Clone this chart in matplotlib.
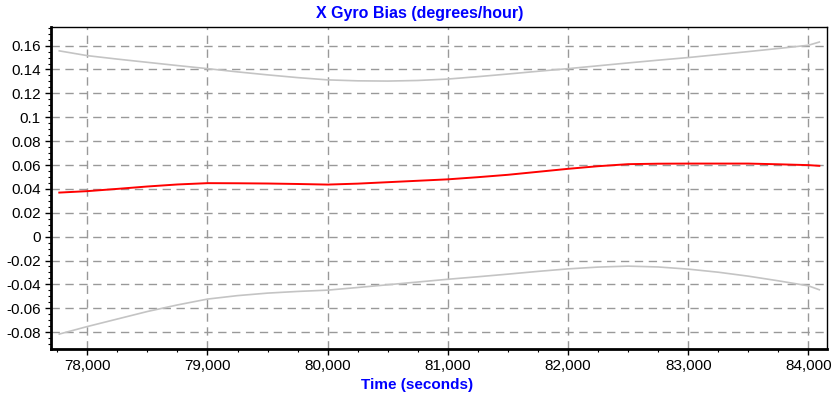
import matplotlib
matplotlib.use("Agg")
import matplotlib.pyplot as plt
from matplotlib.ticker import FuncFormatter, MultipleLocator

plt.rcParams['font.family'] = ['Liberation Sans', 'DejaVu Sans']

# values
time_s = [77767, 78000, 78250, 78500, 78750, 79000, 79250, 79500, 79750,
          80000, 80250, 80500, 80750, 81000, 81250, 81500, 81750, 82000,
          82250, 82500, 82750, 83000, 83250, 83500, 83750, 84000, 84091]
upper = [0.1556, 0.1516, 0.1487, 0.1460, 0.1433, 0.1407, 0.1380, 0.1355, 0.1332,
         0.1313, 0.1305, 0.1303, 0.1308, 0.1320, 0.1340, 0.1362, 0.1385, 0.1407,
         0.1431, 0.1455, 0.1478, 0.1500, 0.1525, 0.1550, 0.1576, 0.1603, 0.1630]
bias = [0.0369, 0.0381, 0.0400, 0.0420, 0.0437, 0.0448, 0.0447, 0.0445, 0.0441,
        0.0436, 0.0444, 0.0456, 0.0468, 0.0480, 0.0498, 0.0518, 0.0543, 0.0568,
        0.0590, 0.0607, 0.0611, 0.0612, 0.0612, 0.0612, 0.0606, 0.0599, 0.0593]
lower = [-0.0816, -0.0753, -0.0690, -0.0627, -0.0572, -0.0523, -0.0494, -0.0473, -0.0459,
         -0.0448, -0.0426, -0.0403, -0.0380, -0.0357, -0.0336, -0.0314, -0.0291, -0.0270,
         -0.0255, -0.0247, -0.0254, -0.0272, -0.0298, -0.0331, -0.0370, -0.0412, -0.0445]

fig = plt.figure(figsize=(8.36, 4.01), dpi=100)
ax = fig.add_axes([0.061, 0.13, 0.928, 0.803])

ax.plot(time_s, upper, color='#c4c4c4', lw=1.2)
ax.plot(time_s, lower, color='#c4c4c4', lw=1.2)
ax.plot(time_s, bias, color='#ff0000', lw=1.4)

ax.set_xlim(77698, 84153)
ax.set_ylim(-0.094, 0.1757)

ax.xaxis.set_major_locator(MultipleLocator(1000))
ax.xaxis.set_minor_locator(MultipleLocator(250))
ax.yaxis.set_major_locator(MultipleLocator(0.02))
ax.yaxis.set_minor_locator(MultipleLocator(0.005))
ax.xaxis.set_major_formatter(FuncFormatter(lambda v, p: f"{v:,.0f}"))
ax.yaxis.set_major_formatter(FuncFormatter(lambda v, p: f"{round(v, 3):g}" if abs(v) > 1e-9 else "0"))

ax.grid(True, which='major', color='#999999', linestyle=(0, (6, 4)), lw=1)
ax.tick_params(which='major', length=4, width=1, labelsize=11, colors='black')
ax.tick_params(which='minor', length=2.5, width=0.8)

for side in ['left', 'bottom']:
    ax.spines[side].set_linewidth(2)
for side in ['top', 'right']:
    ax.spines[side].set_linewidth(1)

# title and axis label are centred on the whole figure, not the axes
fig.text(0.502, 0.967, "X Gyro Bias (degrees/hour)", color='#0000ff',
         fontweight='bold', fontsize=11.5, ha='center', va='center')
fig.text(0.499, 0.04, "Time (seconds)", color='#0000ff',
         fontweight='bold', fontsize=11, ha='center', va='center')

fig.savefig("out.png", dpi=100)
